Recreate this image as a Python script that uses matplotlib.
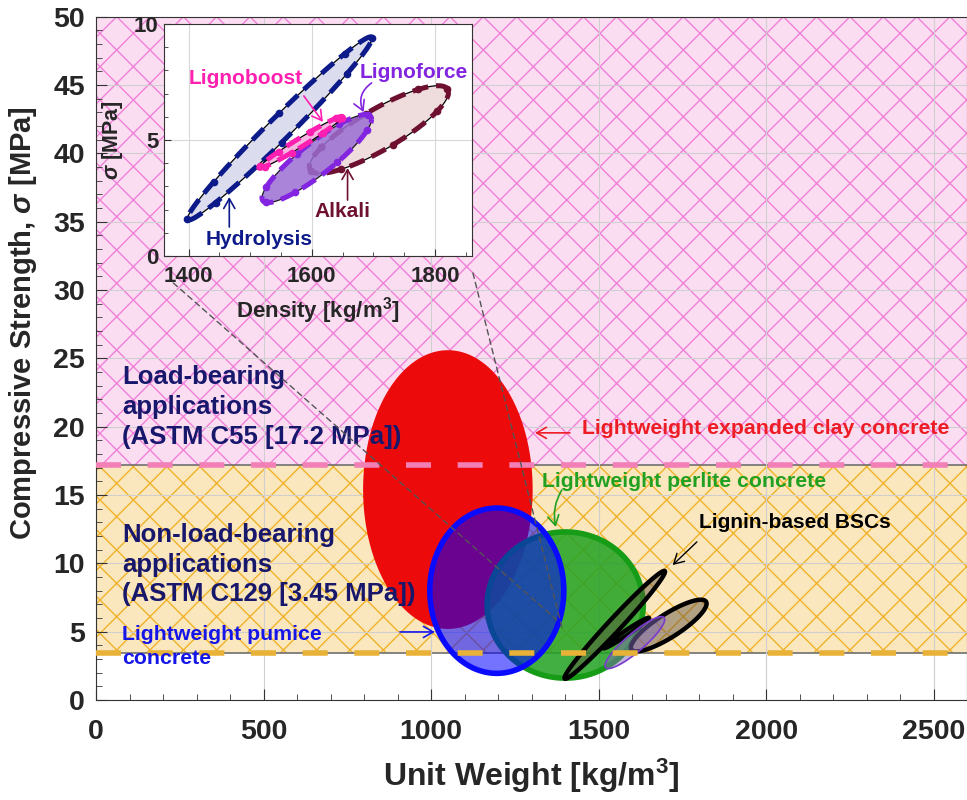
import numpy as np
import matplotlib
matplotlib.use('Agg')
import matplotlib as mpl
from matplotlib import pyplot as plt
from matplotlib.patches import ConnectionPatch

mpl.rc('font', family='Liberation Sans', weight='bold')
mpl.rc('axes', labelweight='bold')
mpl.rc('mathtext', fontset='custom', rm='Liberation Sans:bold', it='Liberation Sans:italic:bold',
       bf='Liberation Sans:bold')
mpl.rc('hatch', linewidth=1.0)

# ASTM strength bands [MPa]
band_lo = [3.45, 17.2]
band_hi = [17.2, 50.0]
band_face = ['#fbe7bd', '#fbddf2']
band_hatch = ['#f0b22a', '#f080d8']
band_dash = ['#e8b238', '#f27fb6']

# Conventional lightweight concretes: centre, half-range in x and y (unit weight, strength)
conc_names = ["Lightweight expanded clay concrete", "Lightweight perlite concrete", "Lightweight pumice concrete"]
conc_cx = [1050, 1400, 1196]
conc_cy = [15.4, 6.95, 8.0]
conc_rx = [253, 233, 200]
conc_ry = [10.2, 5.35, 6.05]

# Lignin-based BSCs: centre, half-range in x and y, phase between x and y [deg]
lig_names = ["Hydrolysis", "Alkali", "Lignoforce", "Lignoboost"]
lig_cx = [1548, 1709, 1608, 1582]
lig_cy = [5.5, 5.45, 4.2, 4.9]
lig_rx = [150, 113, 89, 68]
lig_ry = [3.95, 1.89, 1.9, 1.12]
lig_phase = [10, 32, 27, 11]
lig_edge = ['#0c1a8a', '#6e1030', '#8224e0', '#ff1fb0']
lig_fill = ['#dcdcef', '#efdcdc', '#9a6ed2', '#f6b6e2']


def ellipse_xy(cx, cy, rx, ry, phase, n=240):
    t = np.linspace(0, 2 * np.pi, n)
    return cx + rx * np.cos(t), cy + ry * np.cos(t - np.radians(phase))


fig = plt.figure(figsize=(9.67, 8.0), dpi=100)
ax = fig.add_axes([0.0993, 0.125, 0.901, 0.854])
ax.set_xlim(0, 2600)
ax.set_ylim(0, 50)

for lo, hi, fc, hc in zip(band_lo, band_hi, band_face, band_hatch):
    ax.axhspan(lo, hi, facecolor=fc, edgecolor=hc, hatch='x', lw=0, zorder=0.2)
    ax.axhline(lo, color='#707070', lw=1.2, zorder=0.3)

ax.grid(True, which='major', color='#cfcfcf', lw=0.8)

conc_face = ['#ec0a0a', (0.15, 0.64, 0.15, 0.87), (0.0, 0.0, 1.0, 0.55)]
conc_edge = ['none', '#179c17', '#0a0aff']
conc_lw = [0, 4, 4]
for i in range(3):
    x, y = ellipse_xy(conc_cx[i], conc_cy[i], conc_rx[i], conc_ry[i], 90)
    ax.fill(x, y, facecolor=conc_face[i], edgecolor=conc_edge[i], lw=conc_lw[i], zorder=2 + i)

# lignin ellipses in the main plot
for i in [0, 1, 3, 2]:
    x, y = ellipse_xy(lig_cx[i], lig_cy[i], lig_rx[i], lig_ry[i], lig_phase[i])
    if lig_names[i] == "Lignoforce":
        ax.fill(x, y, facecolor=(0.5, 0.42, 0.72, 0.5), edgecolor='#7a3ad0', lw=1.2, zorder=6)
    else:
        ax.fill(x, y, facecolor=(0.35, 0.29, 0.23, 0.45), edgecolor='black', lw=3.2, zorder=5)

for lo, dc in zip(band_lo, band_dash):
    ax.axhline(lo, color=dc, lw=4, dashes=(4.5, 4.8), zorder=7)

navy = '#17176c'
ax.text(78, 21.45, "Load-bearing\napplications\n(ASTM C55 [17.2 MPa])", color=navy, fontsize=18.5,
        ha='left', va='center', linespacing=1.3, zorder=9)
ax.text(78, 9.9, "Non-load-bearing\napplications\n(ASTM C129 [3.45 MPa])", color=navy, fontsize=18.5,
        ha='left', va='center', linespacing=1.3, zorder=9)

arr = dict(arrowstyle='->,head_length=0.7,head_width=0.4', lw=1.2, shrinkA=0, shrinkB=0)
ax.text(78, 3.9, "Lightweight pumice\nconcrete", color='#1515e8', fontsize=15.3, ha='left', va='center',
        linespacing=1.3, zorder=9)
ax.annotate('', xy=(1011, 4.98), xytext=(907, 4.98), arrowprops=dict(arr, color='#1515e8'), zorder=9)
ax.text(1450, 19.9, "Lightweight expanded clay concrete", color='#ee1c24', fontsize=15.3, ha='left',
        va='center', zorder=9)
ax.annotate('', xy=(1310, 19.55), xytext=(1414, 19.55), arrowprops=dict(arr, color='#ee1c24'), zorder=9)
ax.text(1330, 15.96, "Lightweight perlite concrete", color='#22a022', fontsize=15.3, ha='left',
        va='center', zorder=9)
ax.annotate('', xy=(1372, 12.66), xytext=(1390, 15.37),
            arrowprops=dict(arr, color='#22a022', connectionstyle='arc3,rad=0.2'), zorder=9)
ax.text(1800, 12.96, "Lignin-based BSCs", color='black', fontsize=15, ha='left', va='center', zorder=9)
ax.annotate('', xy=(1721, 9.88), xytext=(1793, 11.57), arrowprops=dict(arr, color='black', lw=1), zorder=9)

ax.set_xticks(np.arange(0, 2501, 500))
ax.set_xticks(np.arange(0, 2601, 100), minor=True)
ax.set_yticks(np.arange(0, 51, 5))
ax.set_yticks(np.arange(0, 51, 1), minor=True)
ax.tick_params(which='both', direction='in', top=False, right=False, colors='#333333',
               labelcolor='#262626', labelsize=20.5)
ax.tick_params(axis='x', which='major', length=8, pad=14)
ax.tick_params(axis='y', which='major', length=8, pad=8)
ax.tick_params(which='minor', length=4)
for s in ax.spines.values():
    s.set_color('#333333')
ax.set_xlabel("Unit Weight [kg/m$^3$]", fontsize=23, color='#262626', labelpad=8)
ax.set_ylabel("Compressive Strength, $\\mathit{\\sigma}$ [MPa]", fontsize=21, color='#262626')
ax.yaxis.set_label_coords(-0.066, 0.552)

# Inset: lignin-based BSCs
axin = fig.add_axes([0.1696, 0.68, 0.3185, 0.29])
axin.set_facecolor('white')
axin.set_xlim(1360, 1860)
axin.set_ylim(0, 10)
axin.grid(True, which='major', color='#d8d8d8', lw=0.8)
for i in range(4):
    x, y = ellipse_xy(lig_cx[i], lig_cy[i], lig_rx[i], lig_ry[i], lig_phase[i])
    axin.fill(x, y, facecolor=lig_fill[i], edgecolor='black', lw=0.9, alpha=0.85 if i == 2 else 1, zorder=2 + i)
    axin.plot(x, y, color=lig_edge[i], lw=3.6, dashes=(3.2, 1.6), marker='o', ms=4.5,
              markevery=(i * 7, 30), zorder=2.5 + i)

lig_text_x = [1515, 1649, 1766, 1493]
lig_text_y = [0.69, 1.9, 7.93, 7.67]
lig_tail = [(1466, 1.25), (1658, 2.41), (1697, 7.46), (1587, 6.9)]
lig_head = [(1466, 2.54), (1658, 3.79), (1684, 6.2), (1618, 5.78)]
lig_rad = [0, 0, 0.4, 0]
for i in range(4):
    axin.text(lig_text_x[i], lig_text_y[i], lig_names[i], color=lig_edge[i], fontsize=15,
              ha='center', va='center', zorder=9)
    axin.annotate('', xy=lig_head[i], xytext=lig_tail[i],
                  arrowprops=dict(arr, color=lig_edge[i], connectionstyle=f'arc3,rad={lig_rad[i]}'), zorder=9)

axin.set_xticks([1400, 1600, 1800])
axin.set_xticks(np.arange(1400, 1851, 50), minor=True)
axin.set_yticks([0, 5, 10])
axin.set_yticks(np.arange(0, 11, 1), minor=True)
axin.tick_params(which='both', direction='in', top=False, right=False, colors='#333333',
                 labelcolor='#262626', labelsize=16)
axin.tick_params(axis='x', which='major', length=5, pad=7)
axin.tick_params(axis='y', which='major', length=5, pad=4)
axin.tick_params(which='minor', length=3)
for s in axin.spines.values():
    s.set_color('#333333')
axin.set_xlabel("Density [kg/m$^3$]", fontsize=16, color='#262626', labelpad=6)
axin.set_ylabel("$\\mathit{\\sigma}$ [MPa]", fontsize=15.5, color='#262626', labelpad=6)

# dashed zoom connectors from the inset to the lignin cluster
for xa, ya, xb, yb in [(0.03, -0.116, 1375, 5.86), (1.003, -0.073, 1390, 5.34)]:
    con = ConnectionPatch(xyA=(xa, ya), coordsA=axin.transAxes, xyB=(xb, yb), coordsB=ax.transData,
                          color='#555555', lw=1, linestyle=(0, (4, 3)), zorder=8)
    fig.add_artist(con)

fig.savefig('out.png', dpi=100)
